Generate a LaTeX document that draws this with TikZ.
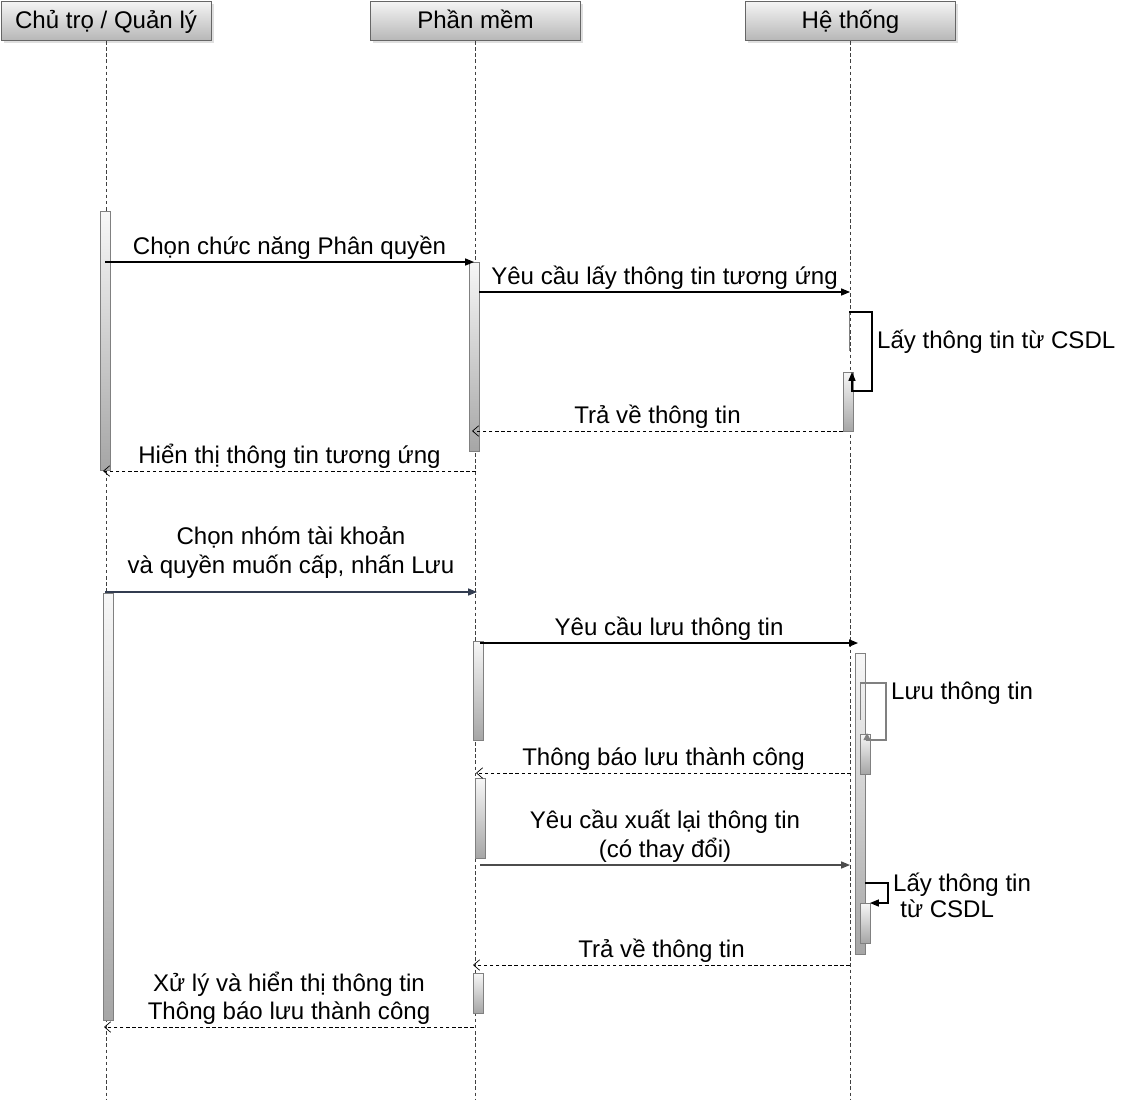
\documentclass[tikz,border=0pt]{standalone}
\usepackage{fontspec}
\setmainfont{Liberation Sans}
\usepackage{tikz}
\usetikzlibrary{arrows.meta,fit,shadows}

\begin{document}
\begin{tikzpicture}[x=0.02cm,y=-0.02cm,
    font=\fontsize{13.7}{16.4}\selectfont,
    actor/.style={draw=black!60, top color=black!4, bottom color=black!28,
        minimum width=4.2cm, minimum height=0.78cm, inner sep=0pt,
        text height=11.5pt, text depth=2pt,
        drop shadow={shadow xshift=1.5pt, shadow yshift=-1.5pt, opacity=0.25}},
    lifeline/.style={black!75, line width=0.4pt, dash pattern=on 2pt off 1.5pt},
    actbox/.style={draw=black!50, top color=black!3, bottom color=black!35, inner sep=0pt},
    msg/.style={-{Triangle[length=5pt,width=4pt]}, line width=0.6pt},
    ret/.style={-{Straight Barb[length=3.5pt,width=6pt,line width=0.4pt]},
        line width=0.5pt, dash pattern=on 2pt off 1.5pt},
    lbl/.style={above, inner sep=1pt, align=center},
    note/.style={anchor=west, inner sep=1pt},
]
\useasboundingbox (0,0) rectangle (1125,1112);

% cac doi tuong
\node[actor] (chu) at (106,20.5) {Chủ trọ / Quản lý};
\node[actor] (pm) at (475.5,20.5) {Phần mềm};
\node[actor] (ht) at (850.5,20.5) {Hệ thống};

\coordinate (end) at (0,1100);
\draw[lifeline] (chu |- 0,41) -- (chu |- end);
\draw[lifeline] (pm |- 0,41) -- (pm |- end);
\draw[lifeline] (ht |- 0,41) -- (ht |- end);

% kich hoat
\node[actbox, fit={(100,211) (110,470)}] (c1) {};
\node[actbox, fit={(103,593) (113,1020)}] (c2) {};
\node[actbox, fit={(469,262) (479,451)}] (p1) {};
\node[actbox, fit={(473,641) (483,740)}] (p2) {};
\node[actbox, fit={(475,778) (485,858)}] (p3) {};
\node[actbox, fit={(473,973) (483,1013)}] (p4) {};
\node[actbox, fit={(843,372) (853,431)}] (h1) {};
\node[actbox, fit={(855,653) (865,954)}] (h2) {};
\node[actbox, fit={(860,734) (870,774)}] (h3) {};
\node[actbox, fit={(860,903) (870,943)}] (h4) {};

% thong diep
\coordinate (A1) at (105,262);  \coordinate (B1) at (474,262);
\coordinate (A2) at (479,292);  \coordinate (B2) at (850,292);
\coordinate (A3) at (849,312);  \coordinate (B3) at (852,372);
\coordinate (A4) at (843,431);  \coordinate (B4) at (472,431);
\coordinate (A5) at (476,471);  \coordinate (B5) at (103,471);
\coordinate (A6) at (105,592);  \coordinate (B6) at (477,592);
\coordinate (A7) at (480,643);  \coordinate (B7) at (858,643);
\coordinate (A8) at (860,683);  \coordinate (B8) at (867,733);
\coordinate (A9) at (851,773);  \coordinate (B9) at (476,773);
\coordinate (A10) at (480,865); \coordinate (B10) at (850,865);
\coordinate (A11) at (865,883); \coordinate (B11) at (870,903);
\coordinate (A12) at (850,965); \coordinate (B12) at (473,965);
\coordinate (A13) at (474,1027); \coordinate (B13) at (104,1027);

\draw[msg] (A1) -- node[lbl] {Chọn chức năng Phân quyền} (B1);
\draw[msg] (A2) -- node[lbl] {Yêu cầu lấy thông tin tương ứng} (B2);
\draw[black!50] (A3) -- (849,351);
\draw[msg] (A3) -- (872,312) -- (872,391) -- (852,391) -- (B3);
\node[note] (l3) at (875,341.5) {Lấy thông tin từ CSDL};
\draw[ret] (A4) -- node[lbl] {Trả về thông tin} (B4);
\draw[ret] (A5) -- node[lbl] {Hiển thị thông tin tương ứng} (B5);

\draw[msg, color={rgb,255:red,50;green,60;blue,80}] (A6) -- node[lbl, above=6.5pt, text=black]
    {Chọn nhóm tài khoản\\và quyền muốn cấp, nhấn Lưu} (B6);
\draw[msg] (A7) -- node[lbl] {Yêu cầu lưu thông tin} (B7);
\draw[black!50] (A8) -- (860,720);
\draw[msg, black!50, -{Triangle[length=4pt,width=4pt]}] (A8) -- (886,683) -- (886,740) -- (867,740) -- (B8);
\node[note] (l8) at (889,693) {Lưu thông tin};
\draw[ret] (A9) -- node[lbl] {Thông báo lưu thành công} (B9);
\draw[msg, black!70] (A10) -- node[lbl, text=black] {Yêu cầu xuất lại thông tin\\(có thay đổi)} (B10);
\draw[msg] (A11) -- (888,883) -- (888,903) -- (B11);
\node[note, align=left, font=\fontsize{13.7}{14.5}\selectfont] (l11) at (891,895.5)
    {Lấy thông tin\\\hspace{0.3em}từ CSDL};
\draw[ret] (A12) -- node[lbl] {Trả về thông tin} (B12);
\draw[ret] (A13) -- node[lbl] {Xử lý và hiển thị thông tin\\Thông báo lưu thành công} (B13);

\end{tikzpicture}
\end{document}
